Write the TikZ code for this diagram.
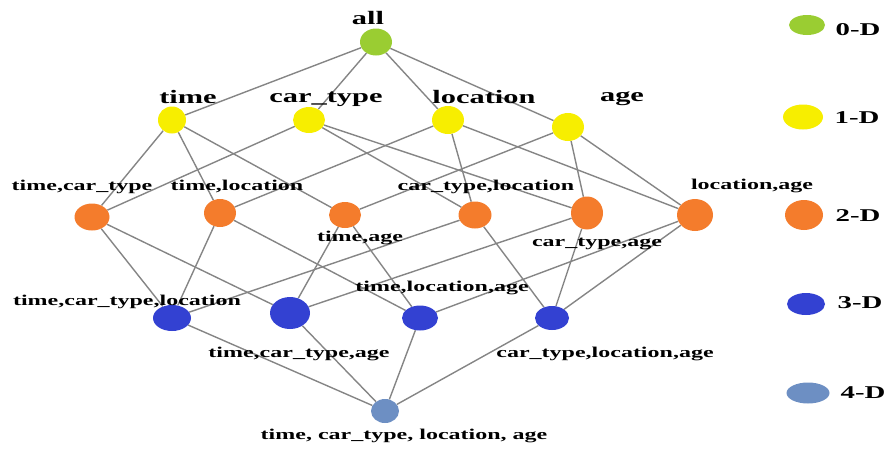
\documentclass[tikz,border=0pt]{standalone}
\usepackage{fontspec}
\setmainfont{Liberation Serif}
\usetikzlibrary{shapes.geometric, backgrounds}
\definecolor{zeroColor}{HTML}{9ACD32}
\definecolor{oneColor}{HTML}{F7EE00}
\definecolor{twoColor}{HTML}{F47C2C}
\definecolor{threeColor}{HTML}{3341D2}
\definecolor{fourColor}{HTML}{6D8FC3}
\definecolor{edgeColor}{HTML}{858585}

\tikzset{
    cell/.style={ellipse, inner sep=0pt, minimum width=34pt, minimum height=28pt},
    lbl/.style={font=\bfseries\fontsize{15}{15}\selectfont, xscale=1.6, inner sep=0pt},
    toplbl/.style={lbl, font=\bfseries\fontsize{19}{19}\selectfont},
    keylbl/.style={lbl, font=\bfseries\fontsize{18}{18}\selectfont},
    link/.style={draw=edgeColor, line width=1.4pt},
}

\begin{document}
\begin{tikzpicture}[x=1pt, y=-1pt]
    \useasboundingbox (0,0) rectangle (891,448);
    % cuboids, 0-D to 4-D
    \node[cell, fill=zeroColor, minimum width=32pt, minimum height=27pt] (all) at (376,42) {};
    \node[cell, fill=oneColor, minimum width=28pt, minimum height=27pt] (t) at (172,120) {};
    \node[cell, fill=oneColor, minimum width=32pt, minimum height=26pt] (c) at (309,120) {};
    \node[cell, fill=oneColor, minimum width=32pt] (l) at (448,120) {};
    \node[cell, fill=oneColor, minimum width=32pt] (a) at (568,127) {};
    \node[cell, fill=twoColor, minimum width=35pt, minimum height=27pt] (tc) at (92,217) {};
    \node[cell, fill=twoColor, minimum width=32pt] (tl) at (220,213) {};
    \node[cell, fill=twoColor, minimum width=32pt, minimum height=26pt] (ta) at (345,215) {};
    \node[cell, fill=twoColor, minimum width=33pt, minimum height=27pt] (cl) at (475,215) {};
    \node[cell, fill=twoColor, minimum width=32pt, minimum height=33pt] (ca) at (587,213) {};
    \node[cell, fill=twoColor, minimum width=36pt, minimum height=32pt] (la) at (695,215) {};
    \node[cell, fill=threeColor, minimum width=38pt, minimum height=26pt] (tcl) at (172,318) {};
    \node[cell, fill=threeColor, minimum width=40pt, minimum height=32pt] (tca) at (290,313) {};
    \node[cell, fill=threeColor, minimum width=36pt, minimum height=25pt] (tla) at (420,318) {};
    \node[cell, fill=threeColor, minimum width=34pt, minimum height=24pt] (cla) at (552,318) {};
    \node[cell, fill=fourColor, minimum width=28pt, minimum height=24pt] (tcla) at (385,411) {};

    % lattice links
    \begin{scope}[on background layer]
        \draw[link] (all) -- (t) (all) -- (c) (all) -- (l) (all) -- (a);
        \draw[link] (t) -- (tc) (t) -- (tl) (t) -- (ta);
        \draw[link] (c) -- (tc) (c) -- (cl) (c) -- (ca);
        \draw[link] (l) -- (tl) (l) -- (cl) (l) -- (la);
        \draw[link] (a) -- (ta) (a) -- (ca) (a) -- (la);
        \draw[link] (tc) -- (tcl) (tc) -- (tca);
        \draw[link] (tl) -- (tcl) (tl) -- (tla);
        \draw[link] (ta) -- (tca) (ta) -- (tla);
        \draw[link] (cl) -- (tcl) (cl) -- (cla);
        \draw[link] (ca) -- (tca) (ca) -- (cla);
        \draw[link] (la) -- (tla) (la) -- (cla);
        \draw[link] (tcl) -- (tcla) (tca) -- (tcla) (tla) -- (tcla) (cla) -- (tcla);
    \end{scope}

    % labels
    \node[toplbl] (allLbl) at (368,18) {all};
    \node[toplbl] (tLbl) at (188,97) {time};
    \node[toplbl] (cLbl) at (326,99) {car\_type};
    \node[toplbl] (lLbl) at (484,97) {location};
    \node[toplbl] (aLbl) at (622,99) {age};
    \node[lbl] (tcLbl) at (82,187) {time,car\_type};
    \node[lbl] (tlLbl) at (237,186) {time,location};
    \node[lbl] (taLbl) at (360,238) {time,age};
    \node[lbl] (clLbl) at (486,187) {car\_type,location};
    \node[lbl] (caLbl) at (597,244) {car\_type,age};
    \node[lbl] (laLbl) at (752,186) {location,age};
    \node[lbl] (tclLbl) at (127,302) {time,car\_type,location};
    \node[lbl] (tcaLbl) at (299,354) {time,car\_type,age};
    \node[lbl] (tlaLbl) at (442,288) {time,location,age};
    \node[lbl] (claLbl) at (605,354) {car\_type,location,age};
    \node[lbl] (tclaLbl) at (404,436) {time, car\_type, location, age};

    % legend
    \node[cell, fill=zeroColor, minimum width=36pt, minimum height=20pt] (key0) at (807,25) {};
    \node[cell, fill=oneColor, minimum width=40pt, minimum height=25pt] (key1) at (803,117) {};
    \node[cell, fill=twoColor, minimum width=38pt, minimum height=30pt] (key2) at (804,215) {};
    \node[cell, fill=threeColor, minimum width=38pt, minimum height=22pt] (key3) at (806,304) {};
    \node[cell, fill=fourColor, minimum width=43pt, minimum height=21pt] (key4) at (808,393) {};
    \node[keylbl] (key0Lbl) at (858,30) {0-D};
    \node[keylbl] (key1Lbl) at (857,118) {1-D};
    \node[keylbl] (key2Lbl) at (858,216) {2-D};
    \node[keylbl] (key3Lbl) at (860,303) {3-D};
    \node[keylbl] (key4Lbl) at (863,393) {4-D};
\end{tikzpicture}
\end{document}
